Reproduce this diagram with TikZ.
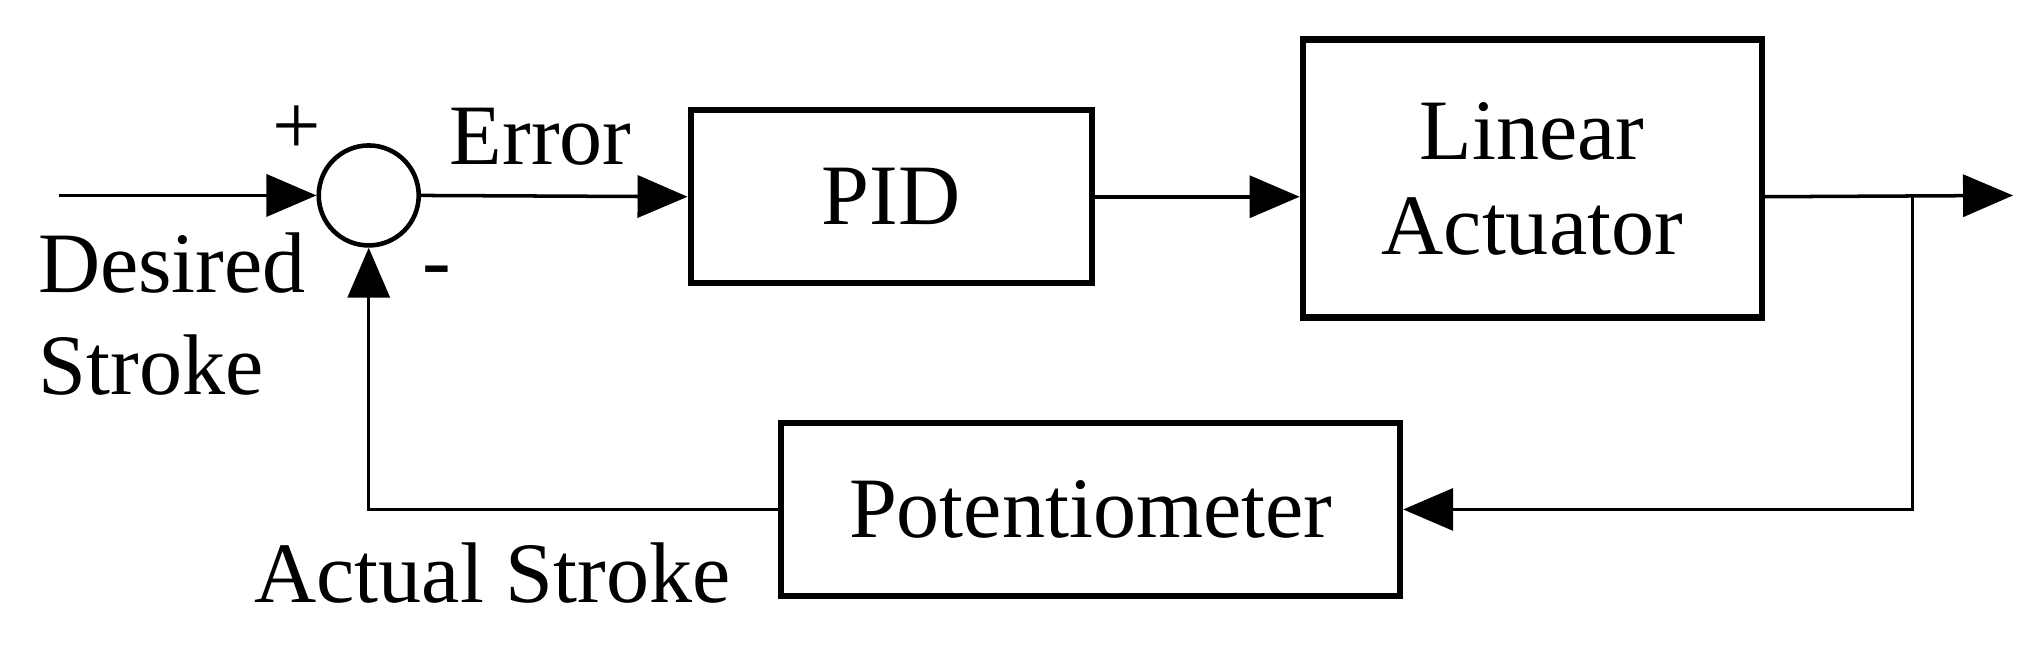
\documentclass[tikz,border=0pt]{standalone}
\usepackage{fontspec}
\setmainfont{Liberation Serif}
\usetikzlibrary{arrows.meta}
\begin{document}
\begin{tikzpicture}[x=0.01303cm,y=-0.01303cm,line width=1pt,
 blk/.style={draw,line width=1.8pt},
 arr/.style={-{Triangle[length=0.5cm,width=0.42cm]}},
 lbl/.style={font=\fontsize{24.5}{27}\selectfont,align=left}]
\useasboundingbox (0,0) rectangle (1568,495);
\node[draw,circle,minimum size=1.0cm,inner sep=0,line width=1.3pt] (s) at (283,150) {};
\node[blk,minimum width=4.01cm,minimum height=1.73cm,lbl] (pid) at (684,151) {PID};
\node[blk,minimum width=4.59cm,minimum height=2.78cm,lbl,align=center] (la) at (1176,137) {Linear\\Actuator};
\node[blk,minimum width=6.19cm,minimum height=1.73cm,lbl] (pot) at (837,391) {Potentiometer};
\coordinate (in) at (45,150);
\coordinate (out) at (1545,150);
\coordinate (br) at (1468,150);
\draw[arr] (in) -- (s.west);
\draw[arr] (s.east) -- (pid.west);
\draw[arr] (pid.east) -- (la.west |- pid.east);
\draw[arr] (la.east |- pid.east) -- (out);
\draw[arr] (br) |- (pot.east);
\draw[arr] (pot.west) -| (s.south);
\node[lbl] at (228,100) {+};
\node[lbl] at (335,213) {-};
\node[lbl] (e) at (415,105) {Error};
\node[lbl] (d) at (132,202) {Desired};
\node[lbl] (st) at (116,280) {Stroke};
\node[lbl] (as) at (378,440) {Actual Stroke};
\end{tikzpicture}
\end{document}
